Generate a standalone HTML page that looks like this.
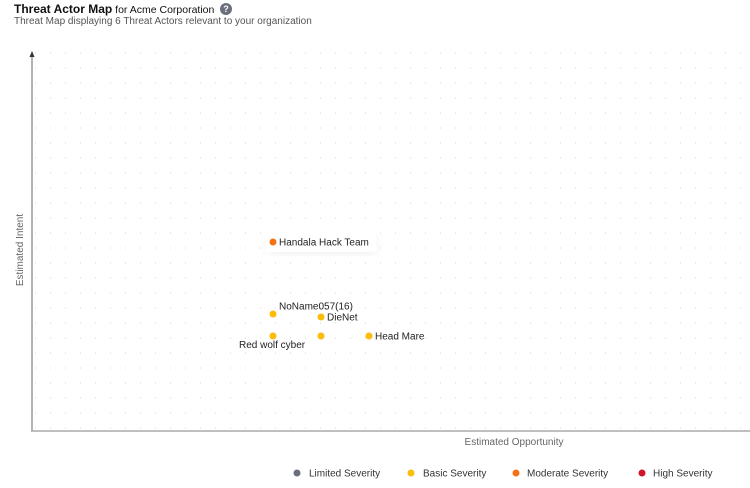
<!DOCTYPE html>
<html><head><style>
body{margin:0;width:750px;height:488px;background:#fff;font-family:"Liberation Sans",sans-serif;overflow:hidden;position:relative}
.t{position:absolute;left:14px;top:2px;font-size:10.5px;color:#111;white-space:nowrap;line-height:14px}
.t b{font-size:12px}
.s{position:absolute;left:14px;top:15px;font-size:10px;color:#555;white-space:nowrap;line-height:13px}
.q{position:absolute;left:220px;top:3px;width:12px;height:12px;border-radius:50%;background:#6b6f7d;color:#fff;font-size:9px;font-weight:bold;text-align:center;line-height:12px}
</style></head><body>
<div class="t"><b>Threat Actor Map</b> for Acme Corporation</div>
<div class="q">?</div>
<div class="s">Threat Map displaying 6 Threat Actors relevant to your organization</div>
<svg width="750" height="488" style="position:absolute;left:0;top:0">
<defs><pattern id="g" x="35" y="52.5" width="15" height="15" patternUnits="userSpaceOnUse"><rect x="0" y="0" width="1" height="1" fill="#d4d4d4"/></pattern>
<filter id="sh"><feGaussianBlur stdDeviation="6"/></filter></defs>
<rect x="33" y="52" width="717" height="378" fill="url(#g)"/>
<line x1="32" y1="56" x2="32" y2="431" stroke="#999" stroke-width="1.5"/>
<polygon points="32,51 29.5,57 34.5,57" fill="#333"/>
<line x1="31" y1="431" x2="750" y2="431" stroke="#aaa" stroke-width="1.5"/>
<text x="23" y="250" transform="rotate(-90 23 250)" text-anchor="middle" font-size="10" fill="#666" font-family="Liberation Sans,sans-serif">Estimated Intent</text>
<text x="514" y="445" text-anchor="middle" font-size="10" fill="#666" font-family="Liberation Sans,sans-serif">Estimated Opportunity</text>
<rect x="268" y="236" width="108" height="18" fill="#000" opacity="0.06" filter="url(#sh)"/>
<rect x="266" y="232" width="110" height="20" fill="#fff"/>
<g font-family="Liberation Sans,sans-serif" font-size="10" fill="#222">
<circle cx="273" cy="242" r="3.5" fill="#f47216"/><text x="279" y="245.5">Handala Hack Team</text>
<circle cx="273" cy="314" r="3.5" fill="#fbbd08"/><text x="279" y="309.5">NoName057(16)</text>
<circle cx="321" cy="317" r="3.5" fill="#fbbd08"/><text x="327" y="320.5">DieNet</text>
<circle cx="273" cy="336" r="3.5" fill="#fbbd08"/><text x="239" y="348">Red wolf cyber</text>
<circle cx="321" cy="336" r="3.5" fill="#fbbd08"/>
<circle cx="369" cy="336" r="3.5" fill="#fbbd08"/><text x="375" y="339.5">Head Mare</text>
</g>
<g font-family="Liberation Sans,sans-serif" font-size="10" fill="#333">
<circle cx="297" cy="473" r="3.5" fill="#6b6f7d"/><text x="309" y="476.5">Limited Severity</text>
<circle cx="411" cy="473" r="3.5" fill="#fbbd08"/><text x="423" y="476.5">Basic Severity</text>
<circle cx="516" cy="473" r="3.5" fill="#f47216"/><text x="527" y="476.5">Moderate Severity</text>
<circle cx="642" cy="473" r="3.5" fill="#d0142c"/><text x="653" y="476.5">High Severity</text>
</g>
</svg>
</body></html>
